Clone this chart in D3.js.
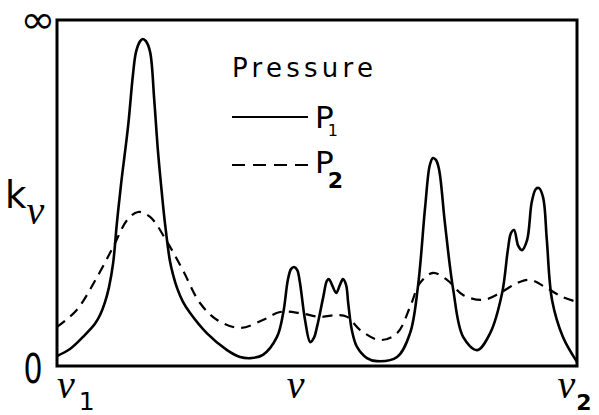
<!DOCTYPE html>
<html>
<head>
<meta charset="utf-8">
<script src="https://cdn.jsdelivr.net/npm/d3@7"></script>
<style>
  body { margin: 0; background: #fff; }
  svg { display: block; }
</style>
</head>
<body>
<div id="chart"></div>
<script>
// frequency (0 = nu1, 100 = nu2) and absorption coefficient k (0..100 = "infinity")
const nuP1 = [0, 2.5, 5.0, 7.3, 8.3, 9.2, 10.0, 10.8, 11.5, 12.3, 13.7, 14.6, 15.2, 16.0, 16.5, 17.1, 17.9, 18.7, 19.4, 20.2, 20.8, 21.7, 22.3, 23.1, 24.2, 25.6, 28.8, 32.7, 35.2, 37.5, 39.6, 42.3, 43.5, 44.4, 45.0, 45.6, 46.2, 46.7, 47.7, 48.7, 49.4, 50.0, 51.2, 51.9, 52.3, 52.9, 53.7, 54.4, 55.0, 55.6, 56.0, 56.7, 57.7, 59.6, 61.5, 65.4, 67.9, 69.4, 70.8, 71.7, 72.3, 72.9, 73.5, 74.6, 76.2, 78.1, 80.8, 83.3, 85.6, 86.7, 87.3, 87.9, 88.7, 89.4, 90.4, 91.3, 92.1, 92.7, 93.5, 94.2, 95.2, 97.3, 100];
const kP1 = [2.9, 4.9, 8.4, 12.2, 14.8, 18.3, 22.8, 29.8, 41.0, 52.3, 69.7, 84.1, 90.8, 93.9, 94.5, 93.9, 90.8, 76.9, 62.4, 49.4, 40.8, 30.5, 26.5, 22.5, 18.6, 15.3, 9.5, 4.6, 2.6, 2.3, 3.2, 8.4, 15.3, 24.9, 28.0, 28.6, 27.7, 24.3, 13.3, 6.9, 8.1, 11.3, 19.9, 24.6, 25.1, 23.4, 21.1, 23.4, 25.1, 23.4, 18.2, 10.4, 5.5, 2.3, 1.4, 2.6, 9.5, 22.8, 46.0, 58.1, 60.1, 59.5, 56.6, 41.3, 22.0, 8.4, 4.6, 9.5, 21.1, 33.5, 38.4, 39.3, 34.7, 33.5, 36.4, 47.4, 51.2, 51.4, 48.6, 36.4, 19.1, 8.4, 1.2];

const nuP2 = [0, 3.8, 7.7, 10.8, 13.5, 15.6, 17.9, 21.2, 24.2, 27.5, 30.8, 35.2, 39.6, 42.9, 46.7, 50.6, 53.8, 55.8, 58.3, 62.1, 65.4, 67.9, 69.8, 72.3, 75.0, 78.1, 81.9, 85.2, 88.5, 91.0, 94.2, 97.3, 100];
const kP2 = [11.3, 16.2, 25.7, 34.4, 42.2, 44.5, 43.1, 35.8, 27.7, 18.2, 13.3, 11.0, 13.3, 15.6, 15.3, 14.2, 14.7, 14.2, 10.4, 7.5, 9.5, 17.1, 24.0, 26.9, 24.9, 20.5, 19.1, 21.1, 24.0, 24.9, 22.5, 19.9, 18.5];

const xTickPos = [0, 46.5, 97];
const xTickMain = ["ν", "ν", "ν"];
const xTickSub = ["1", "", "2"];
const legendNames = ["P", "P"];
const legendSubs = ["1", "2"];

const width = 599, height = 415;
const margin = { left: 57, right: 22, top: 20, bottom: 49 };

const svg = d3.select("#chart").append("svg")
  .attr("width", width)
  .attr("height", height);

const x = d3.scaleLinear().domain([0, 100]).range([margin.left, width - margin.right]);
const y = d3.scaleLinear().domain([0, 100]).range([height - margin.bottom, margin.top]);

const line = d3.line()
  .x(d => x(d[0]))
  .y(d => y(d[1]))
  .curve(d3.curveCatmullRom.alpha(0.5));

const p1 = nuP1.map((v, i) => [v, kP1[i]]);
const p2 = nuP2.map((v, i) => [v, kP2[i]]);

svg.append("path")
  .datum(p2)
  .attr("d", line)
  .attr("fill", "none")
  .attr("stroke", "#000")
  .attr("stroke-width", 2.2)
  .attr("stroke-dasharray", "10,7");

svg.append("path")
  .datum(p1)
  .attr("d", line)
  .attr("fill", "none")
  .attr("stroke", "#000")
  .attr("stroke-width", 2.6);

// frame
svg.append("rect")
  .attr("x", x(0))
  .attr("y", y(100))
  .attr("width", x(100) - x(0))
  .attr("height", y(0) - y(100))
  .attr("fill", "none")
  .attr("stroke", "#000")
  .attr("stroke-width", 3);

// y end labels
svg.append("text")
  .attr("transform", "translate(38,33) scale(1.25,1.15)")
  .attr("text-anchor", "middle")
  .style("font-family", "DejaVu Sans")
  .style("font-size", "34px")
  .text("∞");

svg.append("text")
  .attr("transform", "translate(33,383) scale(0.75,1)")
  .attr("text-anchor", "middle")
  .style("font-family", "DejaVu Sans")
  .style("font-size", "40px")
  .text("0");

// k_nu
const kLab = svg.append("text")
  .attr("x", 5).attr("y", 208)
  .style("font-family", "DejaVu Sans")
  .style("font-size", "37px")
  .text("k");
kLab.append("tspan")
  .attr("dy", 16)
  .style("font-family", "Liberation Serif")
  .style("font-style", "italic")
  .style("font-size", "40px")
  .text("ν");

// x labels
xTickPos.forEach((p, i) => {
  const t = svg.append("text")
    .attr("x", x(p) + (i === 1 ? -12 : i === 2 ? -4 : 0))
    .attr("y", 398)
    .style("font-family", "Liberation Serif")
    .style("font-style", "italic")
    .style("font-size", "40px")
    .text(xTickMain[i]);
  if (xTickSub[i]) {
    t.append("tspan")
      .attr("dx", i === 2 ? 1 : 4)
      .attr("dy", 12)
      .style("font-family", "DejaVu Sans")
      .style("font-style", "normal")
      .style("font-weight", i === 2 ? "bold" : "normal")
      .style("font-size", i === 2 ? "22px" : "25px")
      .text(xTickSub[i]);
  }
});

// legend
svg.append("text")
  .attr("x", 232).attr("y", 77)
  .attr("textLength", 141)
  .attr("lengthAdjust", "spacing")
  .style("font-family", "DejaVu Sans")
  .style("font-size", "26px")
  .text("Pressure");

legendNames.forEach((n, i) => {
  const ly = i === 0 ? 117 : 165;
  svg.append("line")
    .attr("x1", 232).attr("x2", 308)
    .attr("y1", ly).attr("y2", ly)
    .attr("stroke", "#000")
    .attr("stroke-width", 2)
    .attr("stroke-dasharray", i === 0 ? null : "13,8");
  const t = svg.append("text")
    .attr("x", 315).attr("y", i === 0 ? 128 : 173)
    .style("font-family", "DejaVu Sans")
    .style("font-size", "31px")
    .text(n);
  t.append("tspan")
    .attr("dx", -6)
    .attr("dy", i === 0 ? 8 : 15)
    .style("font-size", i === 0 ? "16px" : "22px")
    .style("font-weight", i === 0 ? "normal" : "bold")
    .text(legendSubs[i]);
});
</script>
</body>
</html>
